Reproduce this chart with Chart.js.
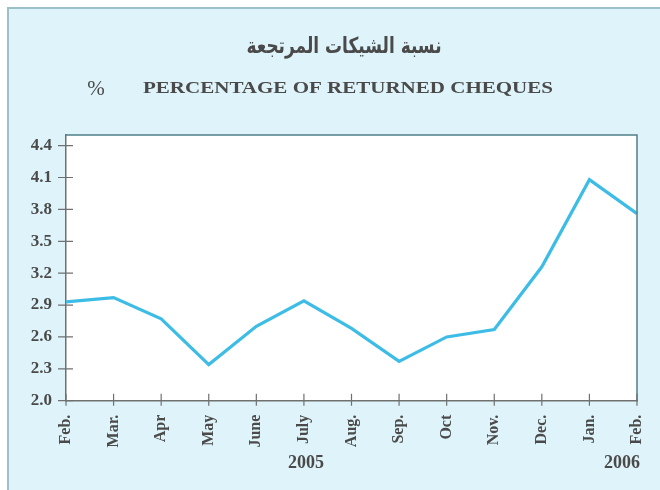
<!DOCTYPE html>
<html>
<head>
<meta charset="utf-8">
<script src="https://cdn.jsdelivr.net/npm/chart.js@4.4.1/dist/chart.umd.min.js"></script>
<style>
html,body{margin:0;padding:0;background:#fff;}
#wrap{width:660px;height:490px;position:relative;}
</style>
</head>
<body>
<div id="wrap"><canvas id="c" width="660" height="490"></canvas></div>
<script>
const months = ["Feb.","Mar.","Apr","May","June","July","Aug.","Sep.","Oct","Nov.","Dec.","Jan.","Feb."];
const returnedPct = [2.93, 2.97, 2.77, 2.34, 2.70, 2.94, 2.68, 2.37, 2.60, 2.67, 3.26, 4.08, 3.76];
const yTicks = [2.0, 2.3, 2.6, 2.9, 3.2, 3.5, 3.8, 4.1, 4.4];
const years = ["2005", "2006"];
const titleAr = "نسبة الشيكات المرتجعة";
const titleEn = "PERCENTAGE OF RETURNED CHEQUES";
const unitLabel = "%";

const TXT = "#4a4a4a";
const SERIF = "'Liberation Serif', 'Times New Roman', serif";

function stretchText(ctx, text, cx, cy, targetW) {
  const w = ctx.measureText(text).width;
  const sx = targetW / w;
  ctx.save();
  ctx.translate(cx, cy);
  ctx.scale(sx, 1);
  ctx.fillText(text, 0, 0);
  ctx.restore();
}

const decor = {
  id: 'decor',
  beforeDraw(chart) {
    const ctx = chart.ctx, a = chart.chartArea;
    ctx.save();
    ctx.fillStyle = '#ffffff';
    ctx.fillRect(0, 0, chart.width, chart.height);
    ctx.fillStyle = '#dff4fa';
    ctx.fillRect(8, 8, chart.width, chart.height);
    ctx.strokeStyle = '#9dbfc8';
    ctx.lineWidth = 2;
    ctx.beginPath();
    ctx.moveTo(8, chart.height + 2); ctx.lineTo(8, 8); ctx.lineTo(chart.width + 2, 8);
    ctx.stroke();
    ctx.fillStyle = '#ffffff';
    ctx.fillRect(a.left, a.top, a.right - a.left, a.bottom - a.top);
    // titles
    ctx.fillStyle = TXT;
    ctx.textAlign = 'center';
    ctx.textBaseline = 'middle';
    ctx.font = "bold 22px 'DejaVu Sans', 'Noto Sans', sans-serif";
    stretchText(ctx, titleAr, 344, 47, 195);
    ctx.font = "bold 17px " + SERIF;
    stretchText(ctx, titleEn, 348, 89, 410);
    ctx.font = "21px " + SERIF;
    ctx.fillText(unitLabel, 96, 89);
    ctx.restore();
  },
  afterDraw(chart) {
    const ctx = chart.ctx, a = chart.chartArea;
    const xs = chart.scales.x, ys = chart.scales.y;
    ctx.save();
    // plot frame top/right
    ctx.strokeStyle = '#4f7f88';
    ctx.lineWidth = 1.5;
    ctx.beginPath();
    ctx.moveTo(a.left, a.top); ctx.lineTo(a.right, a.top); ctx.lineTo(a.right, a.bottom);
    ctx.stroke();
    // crossing ticks
    ctx.strokeStyle = '#707070';
    ctx.lineWidth = 1.2;
    ctx.beginPath();
    ys.ticks.forEach((t, i) => {
      const y = ys.getPixelForTick(i);
      ctx.moveTo(a.left - 8, y); ctx.lineTo(a.left + 7, y);
    });
    xs.ticks.forEach((t, i) => {
      const x = xs.getPixelForTick(i);
      ctx.moveTo(x, a.bottom - 7); ctx.lineTo(x, a.bottom + 5);
    });
    ctx.stroke();
    // year labels
    ctx.fillStyle = TXT;
    ctx.font = "bold 18px " + SERIF;
    ctx.textAlign = 'center';
    ctx.textBaseline = 'middle';
    ctx.fillText(years[0], xs.getPixelForValue(5) + 2, 463);
    ctx.fillText(years[1], xs.getPixelForValue(12) - 15, 463);
    ctx.restore();
  }
};

new Chart(document.getElementById('c'), {
  type: 'line',
  data: {
    labels: months,
    datasets: [{
      data: returnedPct,
      borderColor: '#3dbde6',
      borderWidth: 3.2,
      pointRadius: 0,
      tension: 0,
      fill: false
    }]
  },
  options: {
    responsive: false,
    animation: false,
    devicePixelRatio: 1,
    layout: { padding: { left: 0, right: 23, top: 135, bottom: 0 } },
    plugins: { legend: { display: false }, tooltip: { enabled: false }, title: { display: false } },
    scales: {
      x: {
        offset: false,
        grid: { display: true, drawOnChartArea: false, drawTicks: false },
        border: { display: true, color: '#707070', width: 1.5 },
        ticks: {
          autoSkip: false, maxRotation: 90, minRotation: 90, padding: 14,
          color: TXT, font: { family: SERIF, size: 16, weight: 'bold' }
        },
        afterFit(s) { s.height = 89.3; s.paddingRight = 0; s.paddingLeft = 0; }
      },
      y: {
        min: 2.0, max: 4.5,
        afterBuildTicks(s) { s.ticks = yTicks.map(v => ({ value: v })); },
        grid: { display: true, drawOnChartArea: false, drawTicks: false },
        border: { display: true, color: '#707070', width: 1.5 },
        ticks: {
          padding: 14, color: TXT,
          font: { family: SERIF, size: 17, weight: 'bold' },
          callback: v => Number(v).toFixed(1)
        },
        afterFit(s) { s.width = 66; s.paddingTop = 0; s.paddingBottom = 0; }
      }
    }
  },
  plugins: [decor]
});
</script>
</body>
</html>
